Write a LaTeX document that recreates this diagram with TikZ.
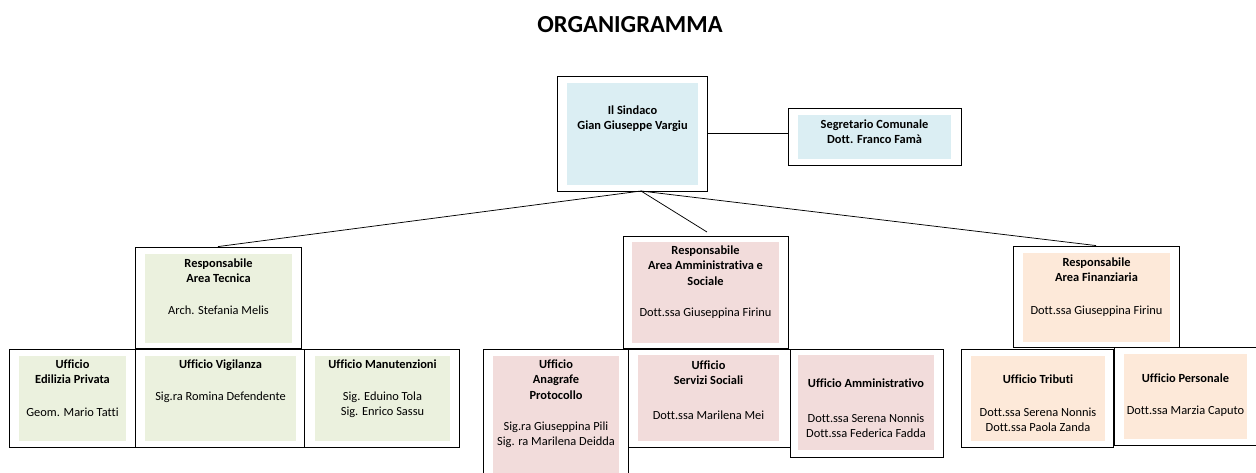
\documentclass[tikz,border=0pt]{standalone}
\usepackage{fontspec}
\setmainfont{Carlito}[Ligatures=NoCommon]
\usetikzlibrary{fit}
\definecolor{cblue}{HTML}{DBEEF3}
\definecolor{cgreen}{HTML}{EBF1DE}
\definecolor{cpink}{HTML}{F2DCDB}
\definecolor{cpeach}{HTML}{FDE9D9}
\tikzset{
  outbox/.style={draw=black, line width=0.85pt, inner sep=0pt, rectangle},
  inbox/.style={draw=none, inner sep=0pt, rectangle},
  txt/.style={align=center, anchor=north, inner sep=0pt, font=\fontsize{12.4}{15.5}\selectfont},
  conn/.style={draw=black, line width=0.75pt},
  ttl/.style={anchor=base, inner sep=0pt, font=\fontsize{24.5}{28}\selectfont\bfseries}
}
\newcommand\orgbox[6]{%
  \node[inbox, fill=#2, fit={#4}] (#1-in) {};
  \node[outbox, fit={#3}] (#1) {};
  \node[txt] (#1-txt) at #5 {\strut #6};
}
\begin{document}
\begin{tikzpicture}[x=1pt,y=-1pt]
\clip (0,0) rectangle (1256,472);
\fill[white] (0,0) rectangle (1256,472);
\node[ttl] (title) at (630,32.3) {ORGANIGRAMMA};

\orgbox{sind}{cblue}{(557,76) (707,191)}{(567,83) (698,185)}{(632.5,103)}{\textbf{Il Sindaco}\\\textbf{Gian Giuseppe Vargiu}}
\orgbox{seg}{cblue}{(788,108) (961,165)}{(798,115) (951,159)}{(874.5,117)}{\textbf{Segretario Comunale}\\\textbf{Dott. Franco Famà}}

\orgbox{tec}{cgreen}{(135,247) (301,348)}{(145,254) (292,343)}{(218.5,256)}{\textbf{Responsabile}\\\textbf{Area Tecnica}\\[16.5pt]Arch. Stefania Melis}
\orgbox{edi}{cgreen}{(9,349) (135,447)}{(19,356) (126,441)}{(72.5,357)}{\textbf{Ufficio}\\\textbf{Edilizia Privata}\\[17.5pt]Geom. Mario Tatti}
\orgbox{vig}{cgreen}{(135,349) (304,447)}{(145,356) (296,441)}{(220.5,357)}{\textbf{Ufficio Vigilanza}\\[16.5pt]Sig.ra Romina Defendente}
\orgbox{man}{cgreen}{(304,349) (459,447)}{(315,356) (450,441)}{(382.5,357)}{\textbf{Ufficio Manutenzioni}\\[16.5pt]Sig. Eduino Tola\\Sig. Enrico Sassu}

\orgbox{amm}{cpink}{(623,236) (788,348)}{(632,242) (779,343)}{(705.5,243)}{\textbf{Responsabile}\\\textbf{Area Amministrativa e}\\\textbf{Sociale}\\[16pt]Dott.ssa Giuseppina Firinu}
\orgbox{ana}{cpink}{(483,349) (628,490)}{(493,356) (619,482)}{(556,357)}{\textbf{Ufficio}\\\textbf{Anagrafe}\\\textbf{Protocollo}\\[15.5pt]Sig.ra Giuseppina Pili\\Sig. ra Marilena Deidda}
\orgbox{ser}{cpink}{(628,349) (790,447)}{(638,355) (779,441)}{(708.5,358)}{\textbf{Ufficio}\\\textbf{Servizi Sociali}\\[19pt]Dott.ssa Marilena Mei}
\orgbox{amo}{cpink}{(790,349) (943,457)}{(798,355) (934,450)}{(866,376)}{\textbf{Ufficio Amministrativo}\\[19.5pt]Dott.ssa Serena Nonnis\\Dott.ssa Federica Fadda}

\orgbox{fin}{cpeach}{(1013,246) (1179,347)}{(1023,253) (1170,342)}{(1096.5,255)}{\textbf{Responsabile}\\\textbf{Area Finanziaria}\\[17.5pt]Dott.ssa Giuseppina Firinu}
\orgbox{tri}{cpeach}{(961,349) (1113,447)}{(971,356) (1105,441)}{(1038,372)}{\textbf{Ufficio Tributi}\\[17.5pt]Dott.ssa Serena Nonnis\\Dott.ssa Paola Zanda}
\orgbox{per}{cpeach}{(1114,347) (1266,445)}{(1124,354) (1247,439)}{(1185.5,371)}{\textbf{Ufficio Personale}\\[16.5pt]Dott.ssa Marzia Caputo}

\coordinate (sb) at (641,191);
\coordinate (ae) at (707,232);
\draw[conn] (sb) -- (tec.north);
\draw[conn] (sb) -- (fin.north);
\draw[conn] (sb) -- (ae);
\draw[conn] (sind.east) -- (sind.east -| seg.west);
\end{tikzpicture}
\end{document}
